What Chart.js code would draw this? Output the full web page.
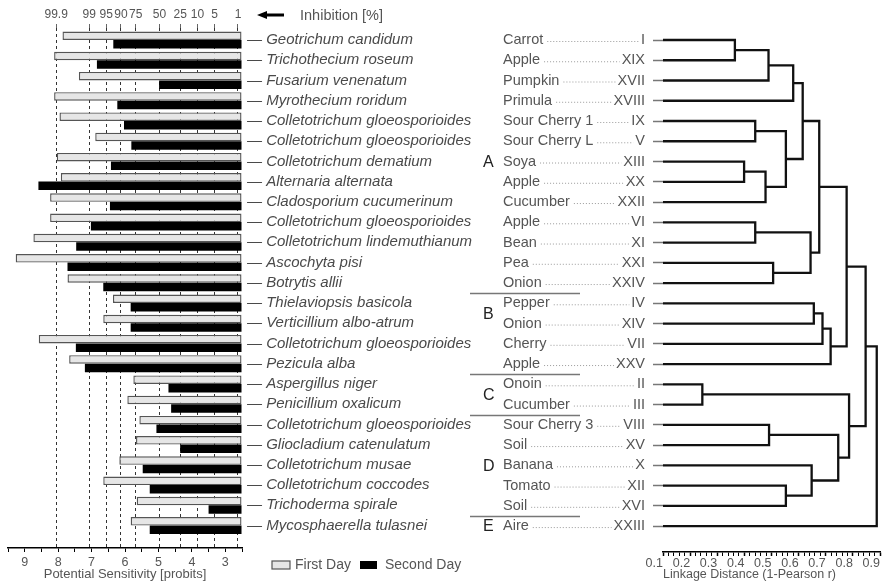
<!DOCTYPE html>
<html><head><meta charset="utf-8">
<script src="https://cdn.jsdelivr.net/npm/chart.js@4.4.1/dist/chart.umd.min.js"></script>
<style>
html,body{margin:0;padding:0;background:#fff;}
#wrap{position:relative;width:884px;height:582px;overflow:hidden;}
canvas{position:absolute;left:0;top:0;}
</style>
</head><body>
<div id="wrap"><canvas id="left" width="884" height="582"></canvas><canvas id="right" width="884" height="582"></canvas></div>
<script>
// ---------- data ----------
const species = ['Geotrichum candidum','Trichothecium roseum','Fusarium venenatum','Myrothecium roridum',
  'Colletotrichum gloeosporioides','Colletotrichum gloeosporioides','Colletotrichum dematium','Alternaria alternata',
  'Cladosporium cucumerinum','Colletotrichum gloeosporioides','Colletotrichum lindemuthianum','Ascochyta pisi',
  'Botrytis allii','Thielaviopsis basicola','Verticillium albo-atrum','Colletotrichum gloeosporioides',
  'Pezicula alba','Aspergillus niger','Penicillium oxalicum','Colletotrichum gloeosporioides',
  'Gliocladium catenulatum','Colletotrichum musae','Colletotrichum coccodes','Trichoderma spirale','Mycosphaerella tulasnei'];
const firstDay  = [7.87,8.12,7.38,8.12,7.96,6.89,8.04,7.92,8.24,8.24,8.74,9.27,7.72,6.36,6.65,8.58,7.67,5.75,5.93,5.57,5.67,6.17,6.65,5.65,5.83];
const secondDay = [6.35,6.84,4.98,6.23,6.03,5.81,6.42,8.59,6.45,7.02,7.46,7.72,6.65,5.83,5.83,7.47,7.20,4.70,4.62,5.06,4.35,5.47,5.26,3.50,5.26];
const probitTicks = [2.5,3,3.5,4,4.5,5,5.5,6,6.5,7,7.5,8,8.5,9,9.5];
const inhibitionLabels = ['99.9','99','95','90','75','50','25','10','5','1'];
const inhibitionProbits = [8.06,7.07,6.56,6.12,5.68,4.97,4.35,3.83,3.32,2.62];

const sourceNames = ['Carrot','Apple','Pumpkin','Primula','Sour Cherry 1','Sour Cherry L','Soya','Apple','Cucumber',
  'Apple','Bean','Pea','Onion','Pepper','Onion','Cherry','Apple','Onoin','Cucumber','Sour Cherry 3','Soil','Banana','Tomato','Soil','Aire'];
const isolateCodes = ['I','XIX','XVII','XVIII','IX','V','XIII','XX','XXII','VI','XI','XXI','XXIV','IV','XIV','VII','XXV',
  'II','III','VIII','XV','X','XII','XVI','XXIII'];
const groupLetters = ['A','B','C','D','E'];
const groupLastRow = [12,16,18,23,24];
// merges: [node a, node b, linkage distance]; leaves 0..24, new nodes 25,26,...
const merges = [
  [0,1,0.365],[25,2,0.489],[26,3,0.580],[4,5,0.440],[6,7,0.399],[29,8,0.478],[28,30,0.553],[27,31,0.615],
  [9,10,0.440],[11,12,0.506],[33,34,0.644],[32,35,0.676],
  [13,14,0.656],[37,15,0.688],[38,16,0.718],[36,39,0.777],
  [17,18,0.245],[19,20,0.491],[22,23,0.553],[21,43,0.648],[42,44,0.746],[41,45,0.786],[40,46,0.847],[47,24,0.888]
];
const distanceTicks = [0.1,0.12,0.14,0.16,0.18,0.2,0.22,0.24,0.26,0.28,0.3,0.32,0.34,0.36,0.38,0.4,0.42,0.44,0.46,0.48,
  0.5,0.52,0.54,0.56,0.58,0.6,0.62,0.64,0.66,0.68,0.7,0.72,0.74,0.76,0.78,0.8,0.82,0.84,0.86,0.88,0.9];

// ---------- common ----------
const FF = "'Liberation Sans', Arial, sans-serif";
Chart.defaults.font.family = FF;
Chart.defaults.color = '#555';
const GRAY_TXT = '#555';

// ---------- left chart ----------
const leftDecor = {
  id: 'leftDecor',
  afterDraw(chart) {
    const ctx = chart.ctx;
    ctx.save();
    // arrow
    ctx.fillStyle = '#000'; ctx.strokeStyle = '#000'; ctx.lineWidth = 3;
    ctx.beginPath(); ctx.moveTo(284, 15); ctx.lineTo(264, 15); ctx.stroke();
    ctx.beginPath(); ctx.moveTo(257, 15); ctx.lineTo(267, 11); ctx.lineTo(267, 19); ctx.closePath(); ctx.fill();
    ctx.fillStyle = GRAY_TXT; ctx.font = '14.5px ' + FF; ctx.textBaseline = 'middle'; ctx.textAlign = 'left';
    ctx.fillText('Inhibition [%]', 300, 16);
    // legend
    const ds = chart.data.datasets;
    ctx.font = '14px ' + FF;
    ctx.fillStyle = ds[0].backgroundColor; ctx.fillRect(272, 561, 18, 8);
    ctx.strokeStyle = ds[0].borderColor; ctx.lineWidth = 1.2; ctx.strokeRect(272, 561, 18, 8);
    ctx.fillStyle = GRAY_TXT; ctx.fillText(ds[0].label, 295, 565.5);
    ctx.fillStyle = ds[1].backgroundColor; ctx.fillRect(360, 561, 17, 8);
    ctx.fillStyle = GRAY_TXT; ctx.fillText(ds[1].label, 385, 565.5);
    ctx.restore();
  }
};

new Chart(document.getElementById('left'), {
  type: 'bar',
  data: {
    datasets: [
      { label: 'First Day', data: firstDay.map((v, i) => ({ x: v, y: i })), backgroundColor: '#e6e6e6',
        borderColor: '#555', borderWidth: 1.4, borderSkipped: false, base: 2.5,
        categoryPercentage: 0.84, barPercentage: 1, xAxisID: 'x', yAxisID: 'y' },
      { label: 'Second Day', data: secondDay.map((v, i) => ({ x: v, y: i })), backgroundColor: '#000',
        borderColor: '#000', borderWidth: 0, borderSkipped: false, base: 2.5,
        categoryPercentage: 0.84, barPercentage: 1, xAxisID: 'x', yAxisID: 'y' }
    ]
  },
  options: {
    indexAxis: 'y', responsive: false, animation: false, devicePixelRatio: 1,
    layout: { padding: { left: 8, right: 402, top: 0, bottom: 0 } },
    plugins: { legend: { display: false }, tooltip: { enabled: false } },
    scales: {
      x: {
        type: 'linear', position: 'bottom', reverse: true, min: 2.5, max: 9.5, offset: false,
        afterBuildTicks: s => { s.ticks = probitTicks.map(v => ({ value: v })); },
        afterFit: s => { s.height = 34; s.paddingLeft = 0; s.paddingRight = 0; },
        grid: { drawOnChartArea: false, drawTicks: true, tickLength: 4, tickColor: '#000', tickWidth: 1 },
        border: { display: true, color: '#000', width: 1.5 },
        ticks: { autoSkip: false, maxRotation: 0, padding: 3, color: GRAY_TXT, font: { size: 12.5 },
          callback: v => Number.isInteger(v) ? String(v) : '' },
        title: { display: true, text: 'Potential Sensitivity [probits]', color: GRAY_TXT, font: { size: 13 },
          padding: { top: 0, bottom: 0 } }
      },
      x2: {
        type: 'linear', position: 'top', reverse: true, min: 2.5, max: 9.5, offset: false,
        afterBuildTicks: s => { s.ticks = inhibitionProbits.map(v => ({ value: v })); },
        afterFit: s => { s.height = 28; s.paddingLeft = 0; s.paddingRight = 0; },
        grid: { drawOnChartArea: true, drawTicks: true, tickLength: 4, color: '#333', lineWidth: 1, tickColor: '#666' },
        border: { display: false, dash: [3, 3] },
        ticks: { autoSkip: false, maxRotation: 0, padding: 2, color: GRAY_TXT, font: { size: 12 },
          callback: (v, i) => inhibitionLabels[i] }
      },
      y: {
        type: 'linear', position: 'right', reverse: true, min: -0.593, max: 25.11, offset: false,
        afterBuildTicks: s => { s.ticks = species.map((_, i) => ({ value: i })); },
        afterFit: s => { s.width = 240; s.paddingTop = 0; s.paddingBottom = 0; },
        grid: { display: false, drawTicks: false, offset: false }, border: { display: false },
        ticks: { autoSkip: false, padding: 5, color: '#4a4a4a', font: { size: 15, style: 'italic' },
          callback: v => '\u2014 ' + species[v] }
      }
    }
  },
  plugins: [leftDecor]
});

// ---------- right chart (dendrogram) ----------
const nodeX = [], nodeY = [];
for (let i = 0; i < isolateCodes.length; i++) { nodeX[i] = 0.1; nodeY[i] = i; }
const dendroSets = merges.map(([a, b, d], k) => {
  const id = isolateCodes.length + k;
  const set = {
    data: [{ x: nodeX[a], y: nodeY[a] }, { x: d, y: nodeY[a] }, { x: d, y: nodeY[b] }, { x: nodeX[b], y: nodeY[b] }],
    showLine: true, borderColor: '#111', borderWidth: 2.3, pointRadius: 0, tension: 0,
    borderJoinStyle: 'miter', borderCapStyle: 'butt', fill: false
  };
  nodeX[id] = d; nodeY[id] = (nodeY[a] + nodeY[b]) / 2;
  return set;
});

const rightDecor = {
  id: 'rightDecor',
  afterDraw(chart) {
    const ctx = chart.ctx, ys = chart.scales.y;
    ctx.save();
    ctx.textBaseline = 'middle'; ctx.textAlign = 'left';
    const nameFont = '14.5px ' + FF;
    for (let i = 0; i < sourceNames.length; i++) {
      const y = ys.getPixelForValue(i);
      ctx.font = nameFont; ctx.fillStyle = GRAY_TXT;
      ctx.fillText(sourceNames[i], 503, y);
      const nameEnd = 503 + ctx.measureText(sourceNames[i]).width;
      const codeStart = 645 - ctx.measureText(isolateCodes[i]).width;
      ctx.strokeStyle = '#9a9a9a'; ctx.lineWidth = 1; ctx.setLineDash([1, 2]);
      ctx.beginPath(); ctx.moveTo(nameEnd + 4, y + 1.5); ctx.lineTo(codeStart - 2, y + 1.5); ctx.stroke();
      ctx.setLineDash([]);
    }
    // group separators
    ctx.strokeStyle = '#777'; ctx.lineWidth = 1.3;
    for (let g = 0; g < groupLastRow.length - 1; g++) {
      const y = Math.round(ys.getPixelForValue(groupLastRow[g] + 0.5)) + 0.5;
      ctx.beginPath(); ctx.moveTo(470, y); ctx.lineTo(580, y); ctx.stroke();
    }
    // group letters
    const letterRows = [6, 13.5, 17.5, 21, 24];
    ctx.font = '16px ' + FF; ctx.fillStyle = '#222';
    groupLetters.forEach((L, g) => ctx.fillText(L, 483, ys.getPixelForValue(letterRows[g]) + 1));
    ctx.restore();
  }
};

new Chart(document.getElementById('right'), {
  type: 'scatter',
  data: { datasets: dendroSets },
  options: {
    responsive: false, animation: false, devicePixelRatio: 1,
    layout: { padding: { left: 463, right: 4, top: 28, bottom: 0 } },
    plugins: { legend: { display: false }, tooltip: { enabled: false } },
    scales: {
      x: {
        type: 'linear', position: 'bottom', min: 0.1, max: 0.9,
        afterBuildTicks: s => { s.ticks = distanceTicks.map(v => ({ value: v })); },
        afterFit: s => { s.height = 30; s.paddingLeft = 0; s.paddingRight = 0; },
        grid: { drawOnChartArea: false, drawTicks: true, tickLength: 4, tickColor: '#000',
          tickWidth: c => (c.index % 5 === 0 ? 1.5 : 1) },
        border: { display: true, color: '#000', width: 1.5 },
        ticks: { autoSkip: false, maxRotation: 0, padding: 0, align: 'end', color: GRAY_TXT, font: { size: 12.5 },
          callback: (v, i) => (i % 5 === 0 ? v.toFixed(1) : '') },
        title: { display: true, text: 'Linkage Distance (1-Pearson r)', align: 'start', color: GRAY_TXT,
          font: { size: 12.5 }, padding: { top: 0, bottom: 0 } }
      },
      y: {
        type: 'linear', position: 'left', reverse: true, min: -0.593, max: 25.28,
        afterBuildTicks: s => { s.ticks = isolateCodes.map((_, i) => ({ value: i })); },
        afterFit: s => { s.width = 200; s.paddingTop = 0; s.paddingBottom = 0; },
        grid: { drawOnChartArea: false, drawTicks: true, tickLength: 10, tickColor: '#777', tickWidth: 1.5 },
        border: { display: false },
        ticks: { autoSkip: false, padding: 8, color: GRAY_TXT, font: { size: 14.5 }, callback: v => isolateCodes[v] }
      }
    }
  },
  plugins: [rightDecor]
});
</script>
</body></html>
